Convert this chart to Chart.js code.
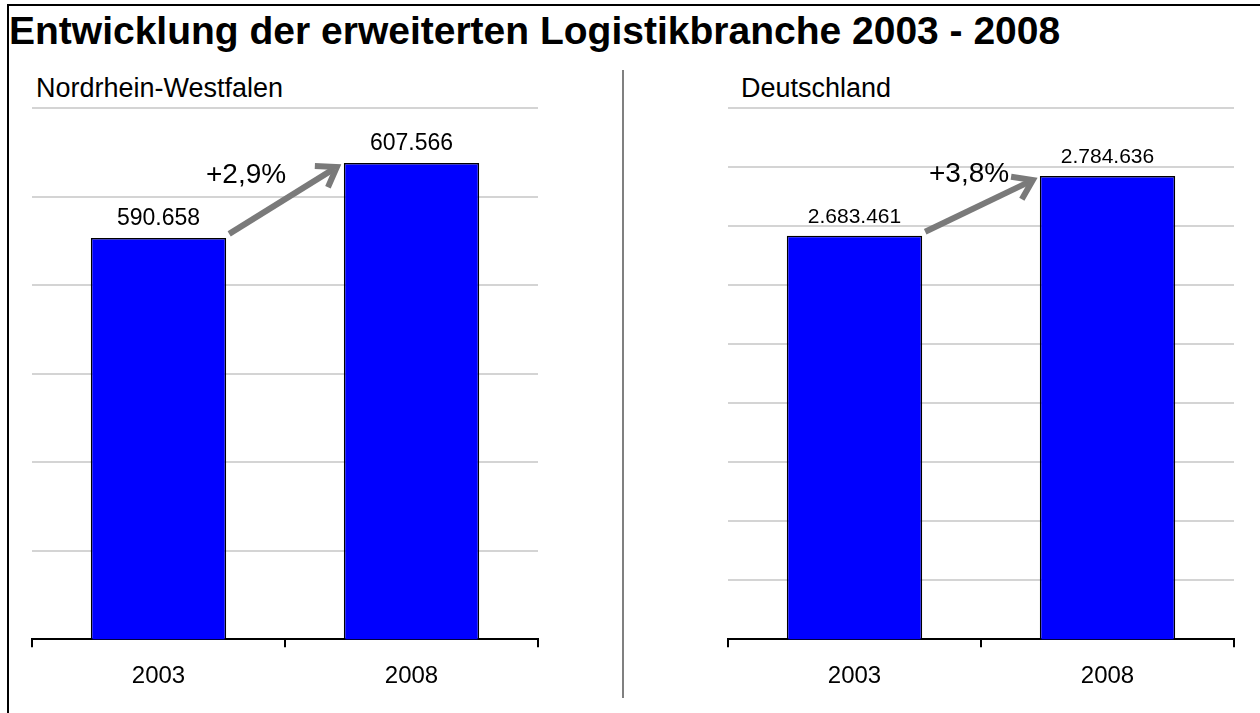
<!DOCTYPE html>
<html lang="de">
<head>
<meta charset="utf-8">
<title>Entwicklung der erweiterten Logistikbranche 2003 - 2008</title>
<script src="https://cdn.jsdelivr.net/npm/chart.js@4.4.1/dist/chart.umd.min.js"></script>
<style>
    body { margin: 0; width: 1260px; height: 713px; background: #fff; overflow: hidden; position: relative; font-family: 'Liberation Sans', Arial, Helvetica, sans-serif; }
    #frame { position: absolute; left: 7px; top: 4px; width: 1253px; height: 709px; border-top: 2px solid #000; border-left: 2px solid #000; }
    #title { position: absolute; left: 9px; top: 11px; font-size: 39px; line-height: 39px; font-weight: bold; color: #000; white-space: nowrap; }
    .sub { position: absolute; top: 75px; font-size: 27px; line-height: 27px; color: #000; white-space: nowrap; }
    #divider { position: absolute; left: 622px; top: 70px; width: 2px; height: 628px; background: #808080; }
    .box { position: absolute; top: 100px; width: 620px; height: 613px; }
</style>
</head>
<body>
<div id="frame"></div>
<div id="title">Entwicklung der erweiterten Logistikbranche 2003 - 2008</div>
<div class="sub" style="left:36px">Nordrhein-Westfalen</div>
<div class="sub" style="left:741px">Deutschland</div>
<div id="divider"></div>
<div class="box" style="left:0px"><canvas id="nrwChart"></canvas></div>
<div class="box" style="left:640px"><canvas id="deChart"></canvas></div>

<script>
// Data
const years = ['2003', '2008'];
const nrwValues = [590658, 607566];
const deValues = [2683461, 2784636];
const nrwGrowth = '+2,9%';
const deGrowth = '+3,8%';
const nrwAxis = { min: 500000, max: 620000, step: 20000 };
const deAxis = { min: 2000000, max: 2900000, step: 100000 };

Chart.defaults.font.family = "'Liberation Sans', Arial, Helvetica, sans-serif";
Chart.defaults.color = '#000';

// German thousands separator
function fmt(n) {
    return String(n).replace(/\B(?=(\d{3})+(?!\d))/g, '.');
}

// Draws value labels above the bars
const valueLabels = {
    id: 'valueLabels',
    afterDatasetsDraw(chart, args, opts) {
        const ctx = chart.ctx;
        const meta = chart.getDatasetMeta(0);
        ctx.save();
        ctx.font = opts.size + 'px ' + Chart.defaults.font.family;
        ctx.fillStyle = '#000';
        ctx.textAlign = 'center';
        ctx.textBaseline = 'alphabetic';
        meta.data.forEach((bar, i) => {
            ctx.fillText(fmt(chart.data.datasets[0].data[i]), bar.x, bar.y - 13);
        });
        ctx.restore();
    }
};

// Grey arrow between the two bars with the growth text
const growthArrow = {
    id: 'growthArrow',
    afterDatasetsDraw(chart, args, opts) {
        const ctx = chart.ctx;
        const bars = chart.getDatasetMeta(0).data;
        const a = bars[0], b = bars[1];
        const x1 = a.x + a.width / 2 + 3, y1 = a.y - 4;
        const x2 = b.x - b.width / 2 - 7, y2 = b.y + 4;
        const ang = Math.atan2(y2 - y1, x2 - x1);
        const head = 22;

        ctx.save();
        ctx.strokeStyle = '#7a7a7a';
        ctx.lineWidth = 6;
        ctx.lineCap = 'butt';
        ctx.lineJoin = 'miter';
        ctx.beginPath();
        ctx.moveTo(x1, y1);
        ctx.lineTo(x2 - 3 * Math.cos(ang), y2 - 3 * Math.sin(ang));
        ctx.stroke();
        ctx.beginPath();
        ctx.moveTo(x2 - head * Math.cos(ang - 0.6), y2 - head * Math.sin(ang - 0.6));
        ctx.lineTo(x2, y2);
        ctx.lineTo(x2 - head * Math.cos(ang + 0.6), y2 - head * Math.sin(ang + 0.6));
        ctx.stroke();

        ctx.font = '28px ' + Chart.defaults.font.family;
        ctx.fillStyle = '#000';
        ctx.textAlign = 'right';
        ctx.textBaseline = 'alphabetic';
        ctx.fillText(opts.text, x1 + opts.dx, y1 + opts.dy);
        ctx.restore();
    }
};

function makeChart(id, values, axis, growth, labelSize, padLeft, padRight, dx, dy) {
    const ctx = document.getElementById(id).getContext('2d');
    return new Chart(ctx, {
        type: 'bar',
        data: {
            labels: years,
            datasets: [{
                data: values,
                backgroundColor: '#0000ff',
                borderColor: '#000',
                borderWidth: 1.5,
                borderSkipped: false,
                barPercentage: 0.535,
                categoryPercentage: 1
            }]
        },
        options: {
            responsive: true,
            maintainAspectRatio: false,
            animation: false,
            layout: { padding: { left: padLeft, right: padRight, top: 8, bottom: 7 } },
            plugins: {
                legend: { display: false },
                tooltip: { enabled: false },
                valueLabels: { size: labelSize },
                growthArrow: { text: growth, dx: dx, dy: dy }
            },
            scales: {
                x: {
                    offset: true,
                    grid: { offset: true, drawOnChartArea: false, color: '#000', lineWidth: 2, tickLength: 8 },
                    border: { display: true, color: '#000', width: 2 },
                    ticks: { padding: 15, font: { size: 24 }, color: '#000' }
                },
                y: {
                    min: axis.min,
                    max: axis.max,
                    ticks: { display: false, stepSize: axis.step },
                    grid: { color: '#d4d4d4', lineWidth: 2, drawTicks: false },
                    border: { display: false }
                }
            }
        },
        plugins: [valueLabels, growthArrow]
    });
}

makeChart('nrwChart', nrwValues, nrwAxis, nrwGrowth, 23, 32, 82, 57, -51);
makeChart('deChart', deValues, deAxis, deGrowth, 21, 88, 26, 84, -50);
</script>
</body>
</html>
